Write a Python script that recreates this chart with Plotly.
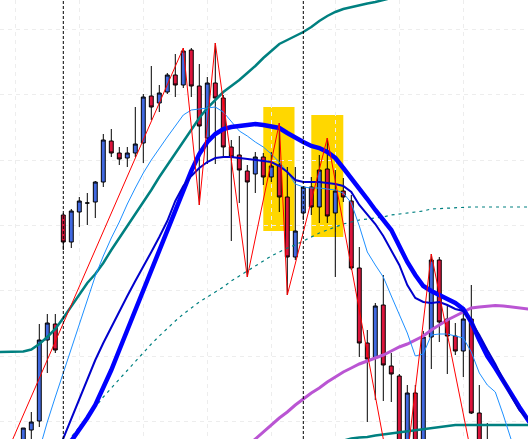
import plotly.graph_objects as go

# ---------------- data (price units) ----------------
candle_idx = list(range(0, 59))
open_p = [-10, 10, 19, 100, 116, 225, 198, 228, 237, 238,
          258, 299, 287, 282, 287, 297, 344, 337, 348, 365,
          355, 390, 354, 302, 357, 342, 293, 285, 269, 266,
          283, 263, 275, 243, 183, 227, 253, 233, 271, 227,
          249, 239, 172, 97, 82, 135, 74, 64, -20, 47,
          -20, 103, 180, 121, 104, 89, 121, 27, -40]
high_p = [12, 28, 116, 126, 126, 227, 231, 243, 247, 259,
          306, 311, 293, 293, 333, 346, 374, 355, 367, 386,
          392, 392, 376, 363, 397, 345, 300, 304, 275, 288,
          287, 288, 317, 273, 273, 253, 263, 285, 302, 270,
          262, 245, 193, 110, 137, 165, 87, 66, 55, 55,
          109, 186, 183, 135, 117, 130, 155, 55, 17]
low_p = [-20, -5, 13, 67, 87, 190, 192, 213, 215, 222,
         253, 283, 275, 273, 283, 277, 320, 328, 346, 343,
         352, 343, 235, 276, 276, 282, 199, 237, 163, 247,
         255, 258, 228, 145, 180, 220, 225, 217, 217, 163,
         238, 170, 83, 18, 40, 39, 38, -85, -40, -40,
         -40, 71, 98, 66, 85, 63, 26, -50, -94]
close_p = [12, 18, 100, 117, 90, 198, 229, 239, 237, 258,
           300, 287, 281, 287, 296, 343, 333, 347, 365, 355,
           389, 354, 314, 357, 342, 293, 283, 270, 258, 283,
           263, 274, 243, 183, 209, 253, 233, 270, 224, 249,
           243, 172, 97, 81, 134, 75, 66, -30, 47, -20,
           103, 180, 118, 104, 89, 121, 27, -30, -20]

# slow teal average (upper)
teal_up_idx = list(range(-3, 48))
teal_up = [88, 88, 88, 88.5, 90.5, 96, 103, 111, 122, 134,
           145, 157, 166, 177, 190, 202, 214, 225, 237, 250,
           263, 275, 287, 299, 311, 322, 332, 340, 348, 354,
           360, 367, 374, 382, 389, 396, 400, 404, 408, 413,
           419, 424, 428, 431, 433, 435, 436.5, 438, 440, 442, 444]

# teal average (lower right)
teal_lo_idx = list(range(38, 65))
teal_lo = [-5, -3, -1, 1.5, 2.5, 3, 4.5, 5.5, 6.5, 7.5,
           9, 10, 11, 12, 13, 14, 15, 15, 15, 15,
           15, 15, 15, 15, 15, 15, 15]

# dotted teal average
teal_dot_idx = list(range(5, 65))
teal_dot = [-7, 3, 13, 23, 34, 43, 52, 61, 70, 79,
            88, 96, 104, 112, 119, 126, 132, 138, 143, 148,
            153, 159, 164, 169, 174, 179, 184, 188, 192, 195,
            199, 203, 207, 210, 213, 216, 218, 220, 221, 222,
            223, 225, 226, 227, 228, 229, 231, 231.5, 232, 232.5,
            233, 233, 233, 233, 233, 233, 233, 233, 233, 233]

# fast light-blue average
fast_idx = list(range(2, 63))
fast_ma = [-10, 18, 43, 67, 93, 117, 140, 164, 184, 202,
           218, 236, 252, 267, 280, 292, 303, 314, 325, 330,
           331, 332, 333, 328, 318, 309, 304, 298, 293, 286,
           278, 268, 256, 253, 252, 252, 251, 250, 247, 237,
           214, 188, 175, 163, 144, 125, 107, 84, 86, 105,
           106, 106, 104, 102, 88, 67, 55, 48, 25, 0, -20]

# medium dark-blue average
mid_idx = list(range(4, 65))
mid_ma = [-18, 2, 22, 42, 61, 80, 97, 113, 129, 144,
          159, 173, 188, 203, 219, 239, 254, 264, 272, 278,
          282, 283, 283, 282, 281, 280, 279, 278, 274, 268,
          260, 258, 258, 258, 257, 256, 254, 248, 235, 226,
          216, 204, 190, 175, 155, 142, 138, 137, 138, 135,
          131, 129, 118, 105, 90, 76, 60, 44, 30, 21, 12]

# thick blue average
thick_idx = list(range(6, 65))
thick_ma = [-1, 10, 22, 35, 52, 70, 90, 110, 130, 150,
            170, 190, 210, 232, 252, 269, 286, 298, 306, 311,
            313, 314, 315, 316, 315, 314, 312, 307, 302, 298,
            294, 292, 288, 282, 272, 262, 251, 241, 230, 220,
            210, 194, 178, 165, 154, 149, 145, 142, 137, 131,
            118, 100, 84, 72, 60, 46, 33, 21, 9]

# purple average
purple_idx = list(range(28, 65))
purple_ma = [-6, 1, 8, 15, 22, 28, 35, 41, 47, 52,
             58, 63, 68, 72, 76, 79, 82, 85, 89, 93,
             96, 100, 104, 110, 115, 120, 124, 128, 132, 133,
             134, 134.5, 134, 133, 132, 131, 130]

# zigzag swing points
zz_idx = [-3, 20, 22, 24, 28, 32, 33, 38, 47, 51, 58]
zz_val = [-30, 392, 235, 397, 163, 317, 145, 302, -85, 186, -94]

# highlighted zones (index from/to, price from/to)
zone_x0 = [30, 36]
zone_x1 = [33.9, 40]
zone_y0 = [209, 203]
zone_y1 = [333, 325]

# session separators
sep_idx = [5, 35]

fig = go.Figure()

fig.add_trace(go.Candlestick(
    x=candle_idx, open=open_p, high=high_p, low=low_p, close=close_p,
    increasing=dict(fillcolor='#4169E1', line=dict(color='black', width=1)),
    decreasing=dict(fillcolor='#DC143C', line=dict(color='black', width=1)),
    whiskerwidth=0, showlegend=False, hoverinfo='skip'))

def line(x, y, color, width, dash=None):
    fig.add_trace(go.Scatter(x=x, y=y, mode='lines',
                             line=dict(color=color, width=width, dash=dash),
                             showlegend=False, hoverinfo='skip'))

line(teal_up_idx, teal_up, '#008080', 2.5)
line(teal_lo_idx, teal_lo, '#008080', 2.5)
line(teal_dot_idx, teal_dot, '#008080', 1.2, '3px,4px')
line(purple_idx, purple_ma, '#BA55D3', 3)
line(fast_idx, fast_ma, '#1E90FF', 1)
line(thick_idx, thick_ma, '#0000FF', 4.5)
line(mid_idx, mid_ma, '#0000CD', 2)
line(zz_idx, zz_val, '#FF0000', 1)

shapes = []
for a, b, c, d in zip(zone_x0, zone_x1, zone_y0, zone_y1):
    shapes.append(dict(type='rect', xref='x', yref='y', x0=a, x1=b, y0=c, y1=d,
                       fillcolor='#FFD700', line=dict(width=0), layer='below'))
for s in sep_idx:
    shapes.append(dict(type='line', xref='x', yref='paper', x0=s, x1=s, y0=0, y1=1,
                       line=dict(color='black', width=1, dash='3px,2px'), layer='above'))

fig.update_layout(
    width=528, height=439,
    margin=dict(l=0, r=0, t=0, b=0),
    paper_bgcolor='white', plot_bgcolor='white',
    shapes=shapes,
    boxgap=0.3, boxgroupgap=0.3,
    xaxis=dict(range=[-2.9125, 63.0875], rangeslider=dict(visible=False),
               showticklabels=False, ticks='', zeroline=False, showline=False,
               showgrid=True, gridcolor='#ededed', griddash='4px,4px', gridwidth=1,
               tick0=-1, dtick=8),
    yaxis=dict(range=[1, 440], showticklabels=False, ticks='', zeroline=False,
               showline=False, showgrid=True, gridcolor='#ededed', griddash='4px,4px',
               gridwidth=1, tick0=18.3, dtick=65.4),
)

fig.write_html("out.html", config={'displayModeBar': False},
               post_script="document.body.style.margin='0px';document.body.style.overflow='hidden';")
